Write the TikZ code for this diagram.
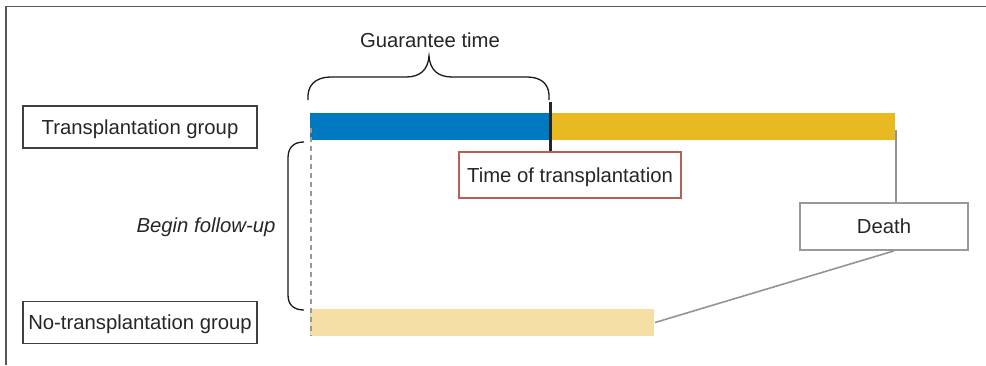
\documentclass[tikz,border=0pt]{standalone}
\usepackage{fontspec}
\setmainfont{Liberation Sans}
\begin{document}
\begin{tikzpicture}[x=1pt,y=-1pt,
  lbl/.style={font=\fontsize{20.3}{23}\selectfont, text=black!85, text depth=0pt, text height=14.5pt},
  groupbox/.style={lbl, draw=black!75, line width=1.4pt, minimum width=234pt, minimum height=42pt, inner sep=0pt},
  bar/.style={minimum height=27pt, inner sep=0pt, outer sep=0pt},
  greyline/.style={draw=black!42, line width=1.6pt}]
\useasboundingbox (0,0) rectangle (986,365);
\definecolor{tblue}{HTML}{0079C1}
\definecolor{tyellow}{HTML}{E8B920}
\definecolor{tlight}{HTML}{F5DFA5}
\definecolor{tred}{HTML}{BA5D55}
% frame
\draw[black!65, line width=1.8pt] (6,365) -- (6,6.5) -- (986,6.5);
% group boxes
\node[groupbox] (tg) at (140,127) {Transplantation group};
\node[groupbox] (ng) at (140,322.5) {No-transplantation group};
% bars
\node[bar, fill=tblue, minimum width=239pt, anchor=north west] (blue) at (310,113) {};
\node[bar, fill=tyellow, minimum width=346pt, anchor=north west] (yellow) at (549,113) {};
\node[bar, fill=tlight, minimum width=344pt, anchor=north west] (light) at (310,309) {};
% dashed begin line
\coordinate (dtop) at (311,128);
\coordinate (dbot) at (311,336);
\draw[black!40, line width=1.7pt, dash pattern=on 5pt off 4pt] (dtop) -- (dbot);
% transplant tick
\coordinate (ttop) at (550,102);
\coordinate (tbot) at (550,152);
\draw[black!85, line width=3pt] (ttop) -- (tbot);
% time of transplantation box
\node[lbl, draw=tred, line width=1.4pt, minimum width=222pt, minimum height=46pt, inner sep=0pt] (tt) at (570,175) {Time of transplantation};
% death box
\node[lbl, draw=black!40, line width=1.8pt, minimum width=168pt, minimum height=47pt, inner sep=0pt] (death) at (884,226.5) {Death};
\coordinate (ydeath) at (896,130);
\draw[greyline] (ydeath) -- (ydeath |- death.north);
\draw[greyline] (death.south -| 894,0) -- ([xshift=1pt]light.east);
% guarantee brace
\node[lbl] (gt) at (430,40) {Guarantee time};
\draw[black!90, line width=1.3pt] (308,100) .. controls (307,86) and (314,77) .. (332,77)
  -- (406,77) .. controls (420,77) and (428,70) .. (429,56)
  .. controls (430,70) and (438,77) .. (452,77)
  -- (526,77) .. controls (544,77) and (550,86) .. (549,100);
% follow-up bracket
\node[lbl, font=\itshape\fontsize{20.3}{23}\selectfont] (bf) at (206,225) {Begin follow-up};
\draw[black!90, line width=1.3pt] (304,142) .. controls (294,142) and (288,147) .. (288,158)
  -- (288,295) .. controls (288,305) and (294,310) .. (304,310);
\end{tikzpicture}
\end{document}
